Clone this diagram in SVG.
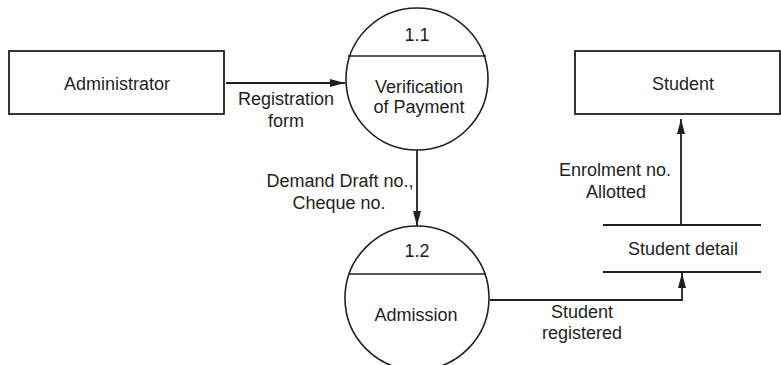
<svg xmlns="http://www.w3.org/2000/svg" width="781" height="365" viewBox="0 0 781 365">
<defs>
<style>
text{font-family:"Liberation Sans",Arial,sans-serif;font-size:18px;fill:#231f20;text-anchor:middle}
.s{fill:none;stroke:#231f20;stroke-width:1.8}
.c{fill:none;stroke:#231f20;stroke-width:1.6}
</style>
<marker id="ah" markerWidth="16" markerHeight="8" refX="15" refY="4" orient="auto" markerUnits="userSpaceOnUse">
<path d="M0,0 L15,4 L0,8 Z" fill="#231f20"/>
</marker>
</defs>
<rect width="781" height="365" fill="#fff"/>
<g id="administrator">
<rect class="s" x="9" y="51" width="215" height="63"/>
<text x="117" y="90">Administrator</text>
</g>
<g id="student">
<rect class="s" x="575" y="51" width="205" height="63"/>
<text x="683" y="90">Student</text>
</g>
<g id="p11">
<circle class="c" cx="417" cy="79" r="71"/>
<line class="c" x1="348" y1="56" x2="486" y2="56"/>
<text x="417" y="41">1.1</text>
<text x="419" y="93">Verification</text>
<text x="419" y="113">of Payment</text>
</g>
<g id="p12">
<circle class="c" cx="417" cy="298" r="72"/>
<line class="c" x1="348" y1="274" x2="486" y2="274"/>
<text x="417" y="257">1.2</text>
<text x="416" y="321">Admission</text>
</g>
<g id="store">
<line class="s" x1="603" y1="225" x2="761" y2="225"/>
<line class="s" x1="603" y1="272" x2="761" y2="272"/>
<text x="683" y="255">Student detail</text>
</g>
<g id="connectors">
<line class="s" x1="226" y1="83" x2="345" y2="83" marker-end="url(#ah)"/>
<line class="s" x1="417" y1="150" x2="417" y2="226" marker-end="url(#ah)"/>
<line class="s" x1="681" y1="225" x2="681" y2="119" marker-end="url(#ah)"/>
<polyline class="s" points="490,300 682,300 682,273" marker-end="url(#ah)"/>
</g>
<g id="labels">
<text x="286" y="105">Registration</text>
<text x="286" y="127">form</text>
<text x="340" y="187">Demand Draft no.,</text>
<text x="339" y="209">Cheque no.</text>
<text x="615" y="176">Enrolment no.</text>
<text x="616" y="198">Allotted</text>
<text x="582" y="318">Student</text>
<text x="582" y="339">registered</text>
</g>
</svg>
